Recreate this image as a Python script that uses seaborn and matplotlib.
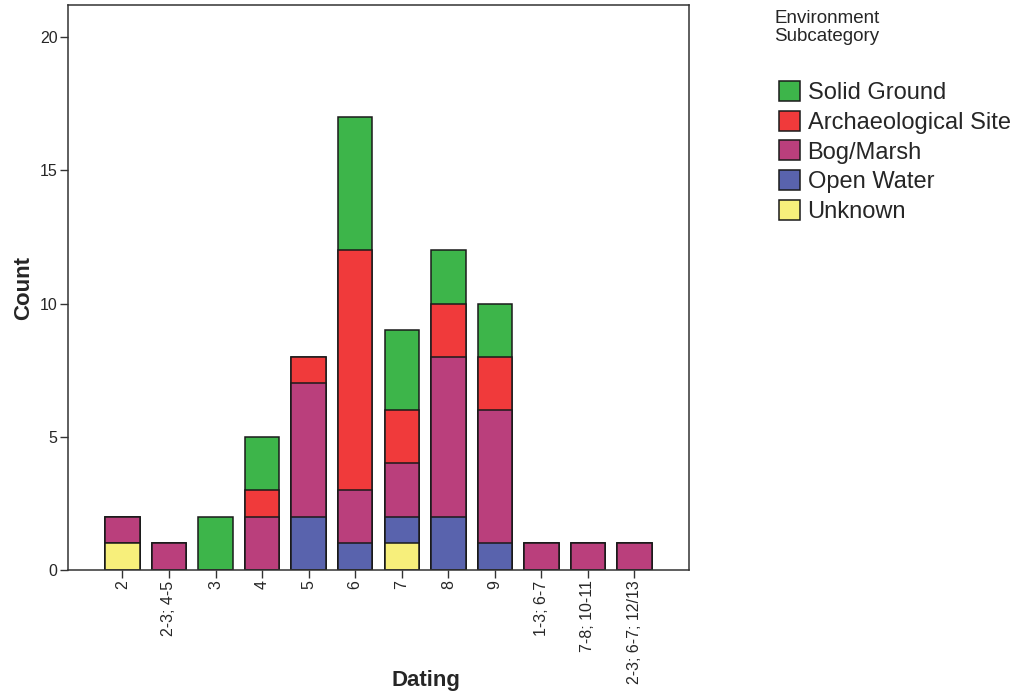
import matplotlib
matplotlib.use("Agg")
import matplotlib.pyplot as plt
from matplotlib.patches import Patch
import numpy as np
import pandas as pd
import seaborn as sns

# Dating categories (x axis)
dating = ["2", "2-3; 4-5", "3", "4", "5", "6", "7", "8", "9",
          "1-3; 6-7", "7-8; 10-11", "2-3; 6-7; 12/13"]

# counts per subcategory, listed bottom to top of the stack
unknown = [1, 0, 0, 0, 0, 0, 1, 0, 0, 0, 0, 0]
open_water = [0, 0, 0, 0, 2, 1, 1, 2, 1, 0, 0, 0]
bog_marsh = [1, 1, 0, 2, 5, 2, 2, 6, 5, 1, 1, 1]
archaeological = [0, 0, 0, 1, 1, 9, 2, 2, 2, 0, 0, 0]
solid_ground = [0, 0, 2, 2, 0, 5, 3, 2, 2, 0, 0, 0]

layers = ["Unknown", "Open Water", "Bog/Marsh", "Archaeological Site", "Solid Ground"]
colors = {
    "Solid Ground": "#3db54a",
    "Archaeological Site": "#f03a3b",
    "Bog/Marsh": "#ba3f7c",
    "Open Water": "#5963ad",
    "Unknown": "#f7ef7b",
}

sns.set_style("white")
plt.rcParams["font.family"] = ["Liberation Sans", "DejaVu Sans"]

df = pd.DataFrame({
    "Dating": dating,
    "Unknown": unknown,
    "Open Water": open_water,
    "Bog/Marsh": bog_marsh,
    "Archaeological Site": archaeological,
    "Solid Ground": solid_ground,
})

fig = plt.figure(figsize=(10.19, 6.97), dpi=100)
ax = fig.add_axes([0.0667, 0.1822, 0.6094, 0.8106])

# stacked bars: draw the cumulative totals from the top layer down
cum = np.cumsum(df[layers].values, axis=1)
for i in range(len(layers) - 1, -1, -1):
    sns.barplot(x=df["Dating"], y=cum[:, i], order=dating, color=colors[layers[i]],
                saturation=1, width=0.74, edgecolor="#1a1a1a", linewidth=1.1, ax=ax)

ax.set_xlim(-1.17, len(dating) - 1 + 1.17)
ax.set_ylim(0, 21.2)
ax.set_yticks([0, 5, 10, 15, 20])
ax.tick_params(axis="both", direction="out", length=6, width=1, color="#333333",
               labelsize=11.5, pad=1.5, left=True, bottom=True)
plt.setp(ax.get_xticklabels(), rotation=90)
for s in ax.spines.values():
    s.set_color("#333333")
    s.set_linewidth(1.1)
ax.set_xlabel("Dating", fontsize=16, fontweight="bold")
ax.xaxis.label.set_va("center")
ax.xaxis.set_label_coords(0.576, -0.196)
ax.set_ylabel("Count", fontsize=16, fontweight="bold", labelpad=4)

fig.text(0.760, 0.986, "Environment\nSubcategory", fontsize=13.5, va="top", ha="left",
         linespacing=1.1)
handles = [Patch(facecolor=colors[n], edgecolor="#1a1a1a", linewidth=1.1, label=n)
           for n in layers[::-1]]
fig.legend(handles=handles, loc="upper left", bbox_to_anchor=(0.764, 0.884),
           frameon=False, fontsize=17, handlelength=0.93, handleheight=0.93,
           handletextpad=0.3, labelspacing=0.28, borderpad=0, borderaxespad=0)

fig.savefig("out.png", dpi=100, facecolor="white")
